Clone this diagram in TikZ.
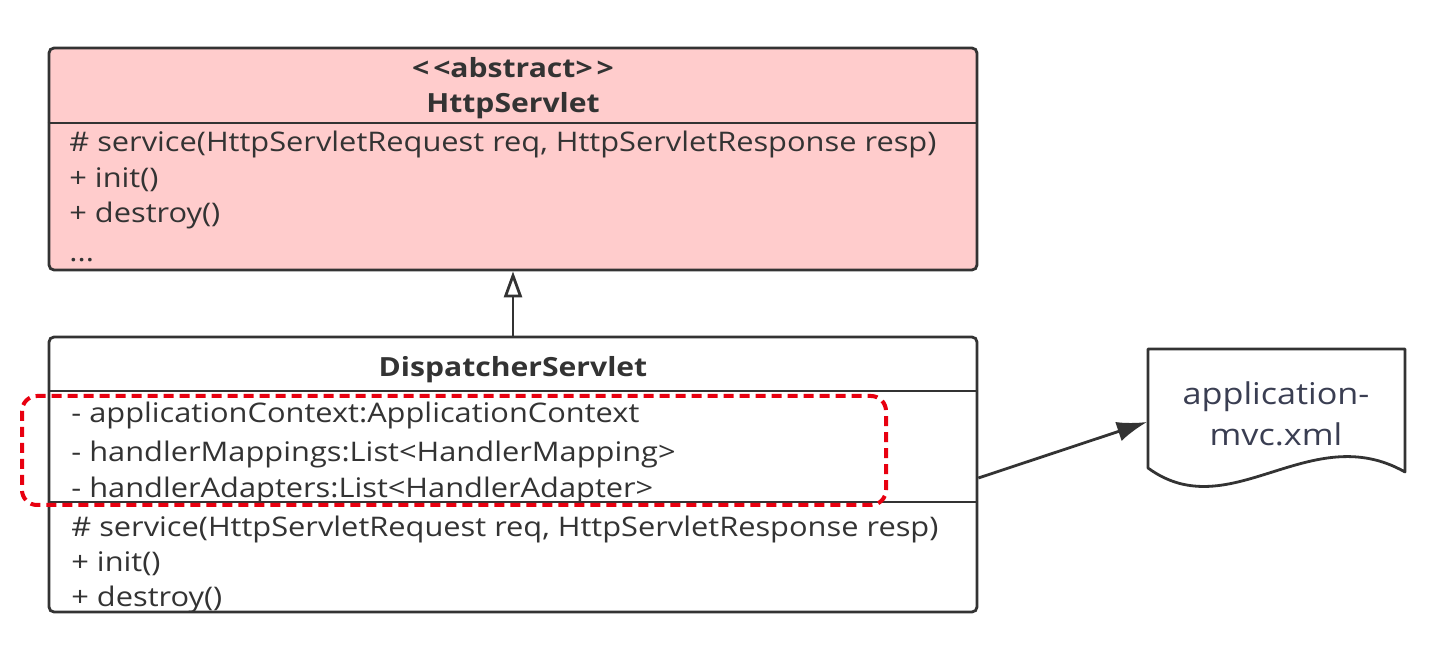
\documentclass[tikz,border=0pt]{standalone}
\usepackage{fontspec}
\setmainfont{Open Sans}[FakeStretch=1.14]
\usetikzlibrary{arrows.meta}
\usetikzlibrary{positioning}
\definecolor{umlpink}{RGB}{255,204,204}
\definecolor{umlline}{RGB}{51,51,51}
\definecolor{umltext}{RGB}{51,51,51}
\definecolor{markred}{RGB}{232,0,16}
\definecolor{xmltext}{RGB}{58,62,82}

\begin{document}
\begin{tikzpicture}[x=0.5pt, y=-0.5pt,
      line width=1.4pt,
      classbox/.style={draw=umlline, rounded corners=2.5pt, inner sep=0pt,
        minimum width=464pt},
      member/.style={anchor=base west, inner sep=0pt, text=umltext,
        font=\fontsize{13.5}{16}\selectfont},
      classname/.style={anchor=base, inner sep=0pt, text=umltext,
        font=\fontsize{13.2}{16}\selectfont\bfseries},
      xmlname/.style={anchor=base, inner sep=0pt, text=xmltext,
        font=\fontsize{15}{18}\selectfont}]

    \useasboundingbox (0,0) rectangle (1430,651);

    \node[classbox, fill=umlpink, minimum height=111pt]
      (HttpServlet) at (513,159) {};
    \node[classbox, fill=white, minimum height=137.5pt]
      (DispatcherServlet) at (513,474.5) {};

    \draw[umlline] (HttpServlet.west |- 0,123) -- (HttpServlet.east |- 0,123);
    \draw[umlline] (DispatcherServlet.west |- 0,391) -- (DispatcherServlet.east |- 0,391);
    \draw[umlline] (DispatcherServlet.west |- 0,502) -- (DispatcherServlet.east |- 0,502);

    \node[classname] (AbstractTag) at (513,78) {<\kern2pt<abstract>\kern2pt>};
    \node[classname] (HttpServletName) at (513,113) {HttpServlet};
    \node[member] (HsService) at (68,152) {\# service(HttpServletRequest req, HttpServletResponse resp)};
    \node[member] (HsInit) at (68,188) {+ init()};
    \node[member] (HsDestroy) at (68,223) {+ destroy()};
    \node[member] (HsMore) at (68,262) {...};

    \node[classname] (DispatcherName) at (513,377) {DispatcherServlet};
    \node[member] (DsContext) at (70,423) {- applicationContext:ApplicationContext};
    \node[member] (DsMappings) at (70,462) {- handlerMappings:List<HandlerMapping>};
    \node[member] (DsAdapters) at (70,498) {- handlerAdapters:List<HandlerAdapter>};
    \node[member] (DsService) at (70,537) {\# service(HttpServletRequest req, HttpServletResponse resp)};
    \node[member] (DsInit) at (70,572) {+ init()};
    \node[member] (DsDestroy) at (70,607) {+ destroy()};

    \draw[markred, line width=2pt, dash pattern=on 5pt off 3pt, rounded corners=7.5pt]
      (22,396) rectangle (886,505);

    \draw[umlline, line join=round]
      (1148,468) -- (1148,349) -- (1405,349) -- (1405,472)
      .. controls (1310,418) and (1230,528) .. (1148,468) -- cycle;
    \node[xmlname] (XmlFileTop) at (1276,405) {application-};
    \node[xmlname] (XmlFileBottom) at (1276,446) {mvc.xml};
    \coordinate (XmlFile) at (1147,422);

    \draw[umlline, -{Triangle[open, length=13pt, width=9pt]}]
      (DispatcherServlet.north) -- (HttpServlet.south);
    \draw[umlline, -{Latex[length=15pt, width=10pt]}]
      ([yshift=-1.75pt]DispatcherServlet.east) -- (XmlFile);

  \end{tikzpicture}
\end{document}
